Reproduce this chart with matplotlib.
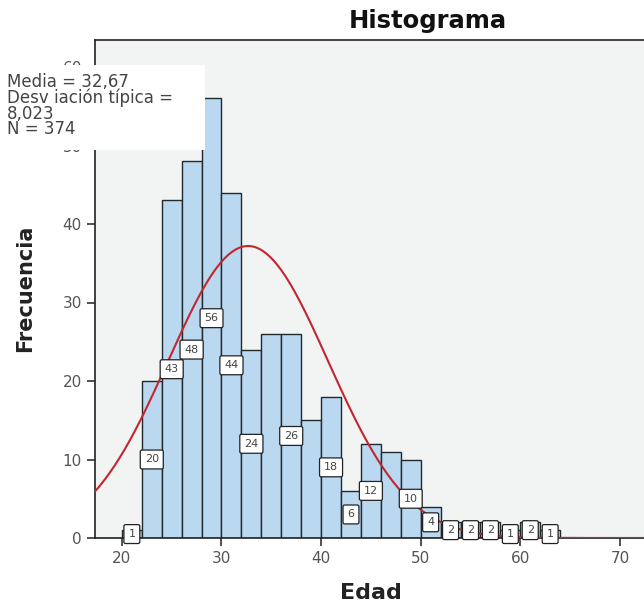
import matplotlib
matplotlib.use("Agg")
import matplotlib.pyplot as plt
import numpy as np

# edad: histograma con bins de 2 años
bin_edges = [20, 22, 24, 26, 28, 30, 32, 34, 36, 38, 40, 42, 44, 46, 48, 50, 52, 54, 56, 58, 60, 62, 64]
counts = [1, 20, 43, 48, 56, 44, 24, 26, 26, 15, 18, 6, 12, 11, 10, 4, 2, 2, 2, 1, 2, 1]
# etiquetas que SPSS muestra (las que se solapan no salen)
shown = [True, True, True, True, True, True, True, False, True, False, True, True, True, False, True,
         True, True, True, True, True, True, True]

media = 32.67
desv = 8.023
n = 374
stats_lines = ['Media = 32,67', 'Desv iación típica =', '8,023', 'N = 374']

plt.rcParams['font.family'] = ['DejaVu Sans']

fig = plt.figure(figsize=(6.44, 6.05), dpi=100)
ax = fig.add_axes([95 / 644, 67 / 605, 700 / 644, 498 / 605])
ax.set_facecolor('#F2F3F3')

x0 = 17.3
x1 = x0 + 700 / 9.96
ax.set_xlim(x0, x1)
ax.set_ylim(0, 498 / 7.85)

lefts = np.array(bin_edges[:-1])
widths = np.diff(bin_edges)
ax.bar(lefts, counts, width=widths, align='edge', color='#BBD8F1', edgecolor='#1F2A2E', linewidth=1.0, zorder=2)

# curva normal
xs = np.linspace(x0, x1, 400)
ys = n * 2 / (desv * np.sqrt(2 * np.pi)) * np.exp(-0.5 * ((xs - media) / desv) ** 2)
ax.plot(xs, ys, color='#C4262E', linewidth=1.5, zorder=3)

for l, w, c, s in zip(lefts, widths, counts, shown):
    if s:
        ax.text(l + w / 2, c / 2, str(c), ha='center', va='center', fontsize=8, color='#444444', zorder=4,
                bbox=dict(boxstyle='round,pad=0.4,rounding_size=0.15', fc='white', ec='#222222', lw=0.9))

ax.set_xticks([20, 30, 40, 50, 60, 70])
ax.set_yticks([0, 10, 20, 30, 40, 50, 60])
ax.tick_params(axis='both', direction='out', length=6, width=1.2, color='#333333', labelsize=11, labelcolor='#555555')
for sp in ax.spines.values():
    sp.set_color('#222222')
    sp.set_linewidth(1.2)

fig.text(371 / 644, 1 - 593 / 605, 'Edad', ha='center', va='center', fontsize=16, fontweight='bold', color='#222222')
fig.text(25 / 644, 1 - 288 / 605, 'Frecuencia', rotation=90, ha='center', va='center',
         fontsize=15, fontweight='bold', color='#222222')
fig.text(428 / 644, 1 - 21 / 605, 'Histograma', ha='center', va='center', fontsize=17.5, fontweight='bold', color='#111111')

# caja de estadísticos
fig.patches.append(plt.Rectangle((0, 1 - 150 / 605), 205 / 644, 85 / 605, transform=fig.transFigure,
                                 facecolor='white', edgecolor='none', zorder=5))
fig.text(7 / 644, 1 - 73 / 605, '\n'.join(stats_lines), ha='left', va='top',
         fontsize=12, color='#444444', linespacing=0.83, zorder=6)

fig.savefig('out.png', dpi=100)
